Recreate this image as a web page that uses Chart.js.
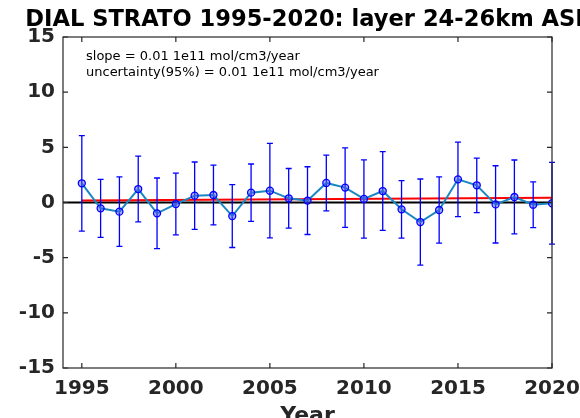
<!DOCTYPE html>
<html>
<head>
<meta charset="utf-8">
<script src="https://cdn.jsdelivr.net/npm/chart.js@4"></script>
<style>
  html, body { margin: 0; padding: 0; background: #fff; }
  #wrap { width: 580px; height: 418px; position: relative; }
</style>
</head>
<body>
<div id="wrap"><canvas id="c" width="580" height="418"></canvas></div>
<script>
// Annual anomalies of the 24-26 km layer (1e11 mol/cm3) with 95% error half-widths
const years  = [1995, 1996, 1997, 1998, 1999, 2000, 2001, 2002, 2003, 2004, 2005, 2006, 2007,
                2008, 2009, 2010, 2011, 2012, 2013, 2014, 2015, 2016, 2017, 2018, 2019, 2020];
const values = [1.74, -0.53, -0.83, 1.22, -0.98, -0.14, 0.62, 0.68, -1.23, 0.89, 1.07, 0.38, 0.17,
                1.77, 1.35, 0.32, 1.04, -0.62, -1.77, -0.68, 2.10, 1.56, -0.17, 0.50, -0.20, -0.07];
const errors = [4.33, 2.63, 3.15, 2.98, 3.20, 2.80, 3.05, 2.70, 2.85, 2.60, 4.28, 2.70, 3.07,
                2.52, 3.60, 3.55, 3.57, 2.60, 3.90, 3.00, 3.38, 2.47, 3.50, 3.35, 2.07, 3.70];

// Linear trend
const trendSlope = 0.01;
const trendAtStart = 0.19;
const trendYears = [1995, 2020];

// Axis ticks and texts
const xTicks = [1995, 2000, 2005, 2010, 2015, 2020];
const yTicks = [-15, -10, -5, 0, 5, 10, 15];
const titleText = 'DIAL STRATO 1995-2020: layer 24-26km ASL';
const noteLines = ['slope = 0.01 1e11 mol/cm3/year', 'uncertainty(95%) = 0.01 1e11 mol/cm3/year'];
const xLabel = 'Year';

const FONT = '"DejaVu Sans", "Liberation Sans", sans-serif';
const AXIS_COLOR = '#262626';

const seriesPoints = years.map((y, i) => ({ x: y, y: values[i] }));
const trendPoints = trendYears.map(y => ({ x: y, y: trendAtStart + trendSlope * (y - trendYears[0]) }));
const zeroPoints = [{ x: 1994, y: 0 }, { x: 2020, y: 0 }];

// Vertical error bars with caps, drawn just before the data line
const errorBars = {
  id: 'errorBars',
  afterDatasetDraw(chart, args) {
    if (args.index !== 1) return;
    const xs = chart.scales.x, ys = chart.scales.y;
    const ctx = chart.ctx;
    ctx.save();
    ctx.strokeStyle = '#0000ff';
    ctx.lineWidth = 1.3;
    years.forEach((yr, i) => {
      const px = xs.getPixelForValue(yr);
      const top = ys.getPixelForValue(values[i] + errors[i]);
      const bot = ys.getPixelForValue(values[i] - errors[i]);
      ctx.beginPath();
      ctx.moveTo(px, top); ctx.lineTo(px, bot);
      ctx.moveTo(px - 3, top); ctx.lineTo(px + 3, top);
      ctx.moveTo(px - 3, bot); ctx.lineTo(px + 3, bot);
      ctx.stroke();
    });
    ctx.restore();
  }
};

// Box frame with inward ticks, title, notes and axis label
const frame = {
  id: 'frame',
  afterDraw(chart) {
    const { ctx, chartArea: a } = chart;
    const xs = chart.scales.x, ys = chart.scales.y;
    ctx.save();
    ctx.strokeStyle = AXIS_COLOR;
    ctx.lineWidth = 1.2;
    ctx.strokeRect(a.left, a.top, a.right - a.left, a.bottom - a.top);
    ctx.beginPath();
    xTicks.forEach(v => {
      const px = xs.getPixelForValue(v);
      ctx.moveTo(px, a.bottom); ctx.lineTo(px, a.bottom - 5);
      ctx.moveTo(px, a.top); ctx.lineTo(px, a.top + 5);
    });
    yTicks.forEach(v => {
      const py = ys.getPixelForValue(v);
      ctx.moveTo(a.left, py); ctx.lineTo(a.left + 5, py);
      ctx.moveTo(a.right, py); ctx.lineTo(a.right - 5, py);
    });
    ctx.stroke();

    ctx.fillStyle = '#000';
    ctx.textAlign = 'center';
    ctx.textBaseline = 'alphabetic';
    ctx.font = 'bold 22.6px ' + FONT;
    ctx.fillText(titleText, (a.left + a.right) / 2, 26);

    ctx.fillStyle = AXIS_COLOR;
    ctx.font = 'bold 22px ' + FONT;
    ctx.fillText(xLabel, (a.left + a.right) / 2, 422);

    ctx.fillStyle = '#000';
    ctx.textAlign = 'left';
    ctx.font = '13px ' + FONT;
    ctx.fillText(noteLines[0], 86, 60);
    ctx.fillText(noteLines[1], 86, 76);
    ctx.restore();
  }
};

new Chart(document.getElementById('c'), {
  type: 'line',
  data: {
    datasets: [
      {
        data: seriesPoints,
        borderColor: '#1b87c2',
        borderWidth: 2,
        pointRadius: 3.5,
        pointBorderWidth: 1.3,
        pointBorderColor: '#0000ff',
        pointBackgroundColor: 'rgba(70,70,255,0.45)',
        tension: 0,
        order: 0
      },
      {
        data: trendPoints,
        borderColor: '#ff0000',
        borderWidth: 2,
        pointRadius: 0,
        order: 1
      },
      {
        data: zeroPoints,
        borderColor: '#000000',
        borderWidth: 2,
        pointRadius: 0,
        order: 2
      }
    ]
  },
  options: {
    responsive: false,
    animation: false,
    devicePixelRatio: 1,
    layout: { padding: { top: 37, right: 28, left: 0, bottom: 0 } },
    plugins: { legend: { display: false }, tooltip: { enabled: false }, title: { display: false } },
    scales: {
      x: {
        type: 'linear',
        min: 1994,
        max: 2020,
        afterBuildTicks: s => { s.ticks = xTicks.map(v => ({ value: v })); },
        afterFit: s => { s.height = 50; s.paddingLeft = 0; s.paddingRight = 0; },
        grid: { display: false, drawTicks: false },
        border: { display: false },
        ticks: {
          color: AXIS_COLOR,
          font: { family: FONT, size: 20, weight: 'bold' },
          padding: 9,
          maxRotation: 0,
          autoSkip: false,
          callback: v => String(v)
        }
      },
      y: {
        type: 'linear',
        min: -15,
        max: 15,
        afterBuildTicks: s => { s.ticks = yTicks.map(v => ({ value: v })); },
        afterFit: s => { s.width = 63; s.paddingTop = 0; s.paddingBottom = 0; },
        grid: { display: false, drawTicks: false },
        border: { display: false },
        ticks: {
          color: AXIS_COLOR,
          font: { family: FONT, size: 20, weight: 'bold' },
          padding: 8,
          autoSkip: false,
          callback: v => String(v)
        }
      }
    }
  },
  plugins: [errorBars, frame]
});
</script>
</body>
</html>
